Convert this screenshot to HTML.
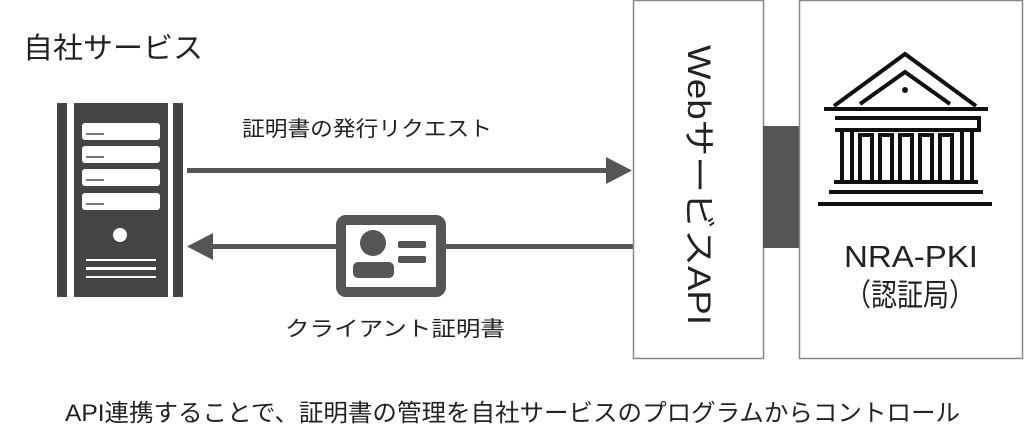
<!DOCTYPE html>
<html><head><meta charset="utf-8"><style>
html,body{margin:0;padding:0;background:#fff;}
svg{display:block;}
text{font-family:"Liberation Sans","Noto Sans CJK JP",sans-serif;fill:#222;}
</style></head><body>
<svg width="1024" height="443" viewBox="0 0 1024 443" xmlns="http://www.w3.org/2000/svg">
<text x="23" y="58" font-size="29" textLength="180" lengthAdjust="spacingAndGlyphs">自社サービス</text>
<g fill="#444">
<rect x="57" y="103" width="10" height="194"/>
<rect x="74" y="103" width="94" height="194"/>
<rect x="173" y="103" width="10" height="194"/>
</g>
<g fill="#fff">
<rect x="82" y="123" width="78" height="17" rx="3"/>
<rect x="82" y="146" width="78" height="17" rx="3"/>
<rect x="82" y="169" width="78" height="17" rx="3"/>
<rect x="82" y="193" width="78" height="17" rx="3"/>
<circle cx="120" cy="235" r="7"/>
<rect x="86" y="259" width="70" height="2"/>
<rect x="86" y="267" width="70" height="3"/>
<rect x="86" y="276" width="70" height="2"/>
</g>
<g fill="#777"><rect x="86" y="133" width="18" height="2"/><rect x="86" y="156" width="18" height="2"/><rect x="86" y="179" width="18" height="2"/><rect x="86" y="203" width="18" height="2"/></g>
<g fill="#555">
<rect x="187" y="168" width="422" height="5"/>
<polygon points="606,157 632,170.5 606,184"/>
<rect x="210" y="244" width="423" height="5"/>
<polygon points="213,233 187,246.5 213,260"/>
</g>
<text x="242" y="136" font-size="21" textLength="250" lengthAdjust="spacingAndGlyphs">証明書の発行リクエスト</text>
<rect x="341" y="220" width="100" height="72" rx="5" fill="#fff" stroke="#555" stroke-width="10"/>
<circle cx="373" cy="243" r="13" fill="#555"/>
<rect x="353" y="262" width="41" height="16" rx="5" fill="#555"/>
<rect x="398" y="241" width="28" height="7" rx="2" fill="#555"/>
<rect x="398" y="256" width="28" height="7" rx="2" fill="#555"/>
<text x="285" y="336" font-size="21" textLength="220" lengthAdjust="spacingAndGlyphs">クライアント証明書</text>
<rect x="633.5" y="0.5" width="130" height="358" fill="#fff" stroke="#888" stroke-width="1.5"/>
<rect x="763" y="126" width="36" height="122" fill="#555"/>
<rect x="799.5" y="0.5" width="223" height="358" fill="#fff" stroke="#888" stroke-width="1.5"/>
<text transform="translate(688,45) rotate(90)" font-size="32" textLength="280" lengthAdjust="spacingAndGlyphs">WebサービスAPI</text>
<g fill="none" stroke="#111" stroke-width="4">
<polyline points="834,106 905,54 976,106"/>
<polyline points="860,104 905,72 950,104"/>
<line x1="824" y1="109" x2="988" y2="109"/>
<path d="M835,118 H979 V130 H972 M842,130 H835 Z"/>
<line x1="842" y1="130" x2="972" y2="130"/>
<path d="M842,130 V180 M852,130 V180"/>
<path d="M860,180 V135 H872 V180"/>
<path d="M880,180 V135 H892 V180"/>
<path d="M900,180 V135 H912 V180"/>
<path d="M920,180 V135 H932 V180"/>
<path d="M940,180 V135 H952 V180"/>
<path d="M962,180 V130 M972,180 V130"/>
<line x1="834" y1="182" x2="978" y2="182"/>
<line x1="829" y1="192" x2="983" y2="192"/>
<line x1="818" y1="204" x2="992" y2="204"/>
</g>
<circle cx="905" cy="90" r="3" fill="#111"/>
<text x="911" y="267" font-size="31" text-anchor="middle" textLength="134" lengthAdjust="spacingAndGlyphs">NRA-PKI</text>
<text x="910" y="306" font-size="31" text-anchor="middle" textLength="130" lengthAdjust="spacingAndGlyphs">（認証局）</text>
<text x="65" y="421" font-size="24" textLength="895" lengthAdjust="spacingAndGlyphs">API連携することで、証明書の管理を自社サービスのプログラムからコントロール</text>
</svg>
</body></html>
